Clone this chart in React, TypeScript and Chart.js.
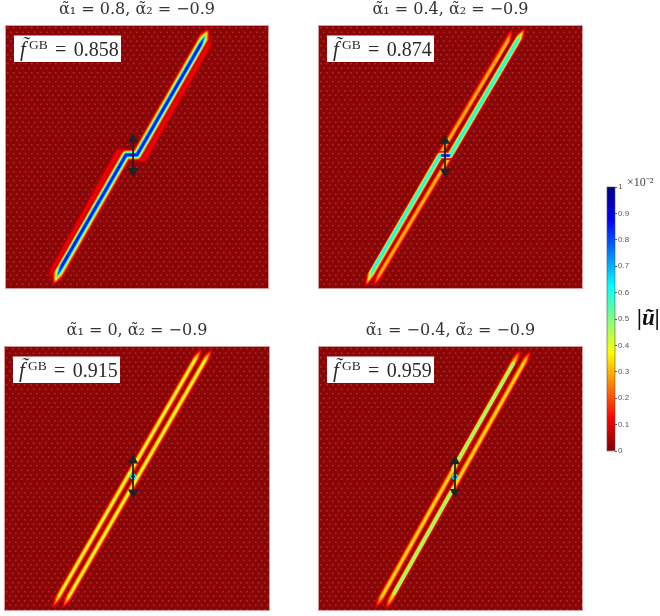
import React, { useEffect, useRef } from "react";
import { Chart, registerables } from "chart.js";

Chart.register(...registerables);

type Pt = [number, number];

// Titles and GB fractions
const panelTitles = [
  "α̃₁ = 0.8, α̃₂ = −0.9",
  "α̃₁ = 0.4, α̃₂ = −0.9",
  "α̃₁ = 0, α̃₂ = −0.9",
  "α̃₁ = −0.4, α̃₂ = −0.9",
];
const fractionValues = ["0.858", "0.874", "0.915", "0.959"];

// Panel 1: ridge of the displacement field and its side lobes
const p1Outer: Pt[] = [[77.0, 98.3], [50.0, 50.8], [45.8, 50.8], [18.4, 2.0]];
const p1Core: Pt[] = [[74.2, 92.8], [50.0, 50.8], [45.8, 50.8], [21.2, 8.3]];
const p1LobeUpper: Pt[] = [[79.2, 95.8], [52.6, 49.2], [49.2, 49.2]];
const p1LobeUpperCore: Pt[] = [[77.0, 92.0], [52.6, 49.2], [49.2, 49.2]];
const p1LobeLower: Pt[] = [[15.9, 3.4], [42.8, 51.9], [45.1, 52.3]];
const p1LobeLowerCore: Pt[] = [[18.0, 7.0], [42.8, 51.9], [45.1, 52.3]];

// Panel 2
const p2Outer: Pt[] = [[78.1, 98.9], [49.8, 50.6], [46.0, 50.6], [17.7, 0.8]];
const p2Core: Pt[] = [[75.0, 93.6], [49.8, 50.6], [46.0, 50.6], [20.8, 7.6]];
const p2StripeUpper: Pt[] = [[73.5, 99.0], [46.4, 51.7]];
const p2StripeUpperCore: Pt[] = [[71.5, 93.5], [46.4, 51.7]];
const p2StripeLower: Pt[] = [[49.8, 50.2], [20.5, 0.4]];
const p2StripeLowerCore: Pt[] = [[49.8, 50.2], [23.5, 6.0]];
const p2Kink: Pt[] = [[46.8, 50.6], [49.4, 50.6]];

// Panel 3
const p3LeftOuter: Pt[] = [[74.4, 99.2], [18.0, 0.8]];
const p3LeftCore: Pt[] = [[71.6, 94.6], [21.2, 6.8]];
const p3RightOuter: Pt[] = [[78.2, 98.9], [21.8, 0.8]];
const p3RightCore: Pt[] = [[75.4, 94.4], [24.9, 6.4]];
const p3Centre: Pt[] = [[48.5, 50.8]];

// Panel 4
const p4LeftOuter: Pt[] = [[76.6, 98.9], [21.5, 0.8]];
const p4LeftCore: Pt[] = [[74.0, 94.2], [24.3, 5.8]];
const p4RightOuter: Pt[] = [[80.4, 98.5], [25.3, 0.4]];
const p4RightCore: Pt[] = [[77.8, 93.8], [28.0, 5.4]];
const p4GreenLeft: Pt[] = [[73.8, 93.6], [50.9, 53.6]];
const p4GreenRight: Pt[] = [[50.9, 46.0], [28.6, 6.4]];
const p4Centre: Pt[] = [[51.7, 50.6]];

// Prescribed displacement arrows
const arrow1: Pt[] = [[48.5, 56.8], [48.5, 44.7]];
const arrow2: Pt[] = [[47.9, 56.2], [47.9, 44.5]];
const arrow3: Pt[] = [[48.5, 56.8], [48.5, 44.7]];
const arrow4: Pt[] = [[51.7, 56.6], [51.7, 44.9]];

// Colour bar
const colorbarLabels = [""];
const colorbarRange: [number, number][] = [[0, 1]];
const colorbarTicks = [0, 0.1, 0.2, 0.3, 0.4, 0.5, 0.6, 0.7, 0.8, 0.9, 1];

// Styling: colour value / stroke width
const blueProfile = [[0.05, 12], [0.08, 10.8], [0.12, 10], [0.18, 9.2], [0.24, 8.3], [0.3, 7.5], [0.35, 6.8], [0.4, 6.1], [0.45, 5.6], [0.5, 5.1], [0.55, 4.6], [0.6, 4.2], [0.66, 3.7], [0.72, 3.3], [0.78, 2.8], [0.85, 2.1]];
const cyanProfile = [[0.05, 8.4], [0.08, 7.4], [0.12, 6.8], [0.18, 6.2], [0.24, 5.6], [0.3, 5], [0.35, 4.5], [0.4, 4], [0.45, 3.6], [0.5, 3.2], [0.55, 2.8], [0.6, 2.4]];
const orangeProfile = [[0.05, 7], [0.08, 6], [0.12, 5.2], [0.17, 4.3], [0.22, 3.4], [0.26, 2.6], [0.3, 1.8]];
const yellowProfile = [[0.05, 7.6], [0.08, 6.8], [0.12, 6], [0.17, 5], [0.22, 4.2], [0.27, 3.4], [0.32, 2.7], [0.36, 2.1], [0.41, 1.4]];
const amberProfile = [[0.05, 7.4], [0.08, 6.6], [0.12, 5.8], [0.17, 4.9], [0.22, 4], [0.27, 3.2], [0.31, 2.4], [0.34, 1.6]];
const greenProfile = [[0.36, 3.6], [0.4, 3], [0.44, 2.6], [0.48, 2.2]];
const lobeProfile = [[0.04, 7.4], [0.07, 5.6], [0.11, 3.6]];
const taperSteps = [[1, 0], [0.65, 0.2], [0.35, 0.4]];

const jet = (v: number) => {
  const t = 1 - v;
  const c = (x: number) => Math.round(255 * Math.max(0, Math.min(1, 1.5 - Math.abs(x))));
  return `rgb(${c(4 * t - 3)},${c(4 * t - 2)},${c(4 * t - 1)})`;
};

const toXY = (pts: Pt[]) => pts.map(([x, y]) => ({ x, y }));

const line = (pts: Pt[], v: number, w: number) => ({
  type: "line",
  data: toXY(pts),
  borderColor: jet(v),
  borderWidth: w,
  borderCapStyle: "round",
  borderJoinStyle: "round",
  pointRadius: 0,
  tension: 0,
  fill: false,
});

const between = (a: Pt[], b: Pt[], k: number): Pt[] =>
  a.map(([x, y], i) => [x + (b[i][0] - x) * k, y + (b[i][1] - y) * k]);

// Each colour level of a ridge narrows towards the tips of the ridge.
const ridge = (outer: Pt[], core: Pt[], profile: number[][]) => {
  const peak = profile[profile.length - 1][0];
  const out: any[] = [];
  for (const [v, w] of profile) {
    const s = 0.4 + 0.6 * (v / peak);
    for (const [f, back] of taperSteps) {
      out.push(line(between(outer, core, Math.max(0, s - back)), v, w * f));
    }
  }
  return out;
};

const dots = (pts: Pt[], v: number, r: number) => ({
  type: "scatter",
  data: toXY(pts),
  backgroundColor: jet(v),
  borderWidth: 0,
  pointRadius: r,
});

const arrow = (pts: Pt[]) => ({
  type: "line",
  data: toXY(pts),
  borderColor: "#222222",
  borderWidth: 1.8,
  pointStyle: "triangle",
  pointRadius: 6,
  pointBorderWidth: 0,
  pointBackgroundColor: "#222222",
  pointRotation: [0, 180],
  tension: 0,
});

const panelLayers = [
  [
    ...ridge(p1LobeUpper, p1LobeUpperCore, lobeProfile),
    ...ridge(p1LobeLower, p1LobeLowerCore, lobeProfile),
    ...ridge(p1Outer, p1Core, blueProfile),
    arrow(arrow1),
  ],
  [
    ...ridge(p2StripeUpper, p2StripeUpperCore, orangeProfile),
    ...ridge(p2StripeLower, p2StripeLowerCore, orangeProfile),
    ...ridge(p2Outer, p2Core, cyanProfile),
    line(p2Kink, 0.86, 2.6),
    arrow(arrow2),
  ],
  [
    ...ridge(p3LeftOuter, p3LeftCore, yellowProfile),
    ...ridge(p3RightOuter, p3RightCore, yellowProfile),
    dots(p3Centre, 0.62, 3),
    dots(p3Centre, 0.85, 1.8),
    arrow(arrow3),
  ],
  [
    ...ridge(p4LeftOuter, p4LeftCore, amberProfile),
    ...ridge(p4RightOuter, p4RightCore, amberProfile),
    ...ridge(p4GreenLeft, p4GreenLeft, greenProfile),
    ...ridge(p4GreenRight, p4GreenRight, greenProfile),
    dots(p4Centre, 0.62, 3),
    dots(p4Centre, 0.85, 1.8),
    arrow(arrow4),
  ],
];

const boxes = [
  { left: 5, top: 26, w: 264, h: 264 },
  { left: 318, top: 26, w: 265, h: 264 },
  { left: 4, top: 347, w: 266, h: 265 },
  { left: 318, top: 347, w: 265, h: 265 },
];

const SERIF = '"Liberation Serif", serif';
const TITLE_FONT = '"DejaVu Serif", serif';

const latticePattern = (ctx: CanvasRenderingContext2D) => {
  const tile = document.createElement("canvas");
  tile.width = 6;
  tile.height = 9;
  const t = tile.getContext("2d")!;
  t.fillStyle = "rgba(215,90,80,0.52)";
  t.fillRect(1, 1, 1.5, 1.5);
  t.fillRect(4, 5.5, 1.5, 1.5);
  return ctx.createPattern(tile, "repeat")!;
};

const panelPlugin = (index: number) => ({
  id: "panelDecor",
  beforeDatasetsDraw(chart: any) {
    const { ctx, chartArea: a } = chart;
    ctx.save();
    ctx.fillStyle = "#8a0606";
    ctx.fillRect(a.left, a.top, a.width, a.height);
    ctx.translate(a.left, a.top);
    ctx.fillStyle = latticePattern(ctx);
    ctx.fillRect(0, 0, a.width, a.height);
    ctx.restore();
  },
  afterDatasetsDraw(chart: any) {
    const { ctx, chartArea: a } = chart;
    ctx.save();
    ctx.strokeStyle = "rgba(205,130,130,0.8)";
    ctx.lineWidth = 1;
    ctx.strokeRect(a.left - 0.5, a.top - 0.5, a.width + 1, a.height + 1);
    const bx = a.left + 8;
    const by = a.top + 9.5;
    ctx.fillStyle = "#ffffff";
    ctx.fillRect(bx, by, 107, 26.5);
    ctx.fillStyle = "#2a2a2a";
    ctx.textBaseline = "alphabetic";
    ctx.textAlign = "left";
    ctx.font = `italic 21px ${SERIF}`;
    ctx.fillText("f̃", bx + 6, by + 20);
    ctx.font = `13.5px ${SERIF}`;
    ctx.fillText("GB", bx + 15, by + 13);
    ctx.font = `20px ${SERIF}`;
    (ctx as any).wordSpacing = "2.5px";
    ctx.fillText(`= ${fractionValues[index]}`, bx + 41, by + 20);
    (ctx as any).wordSpacing = "0px";
    ctx.restore();
  },
});

const colorbarPlugin = {
  id: "colorbarDecor",
  afterDatasetsDraw(chart: any) {
    const { ctx, chartArea: a } = chart;
    ctx.save();
    ctx.strokeStyle = "#555555";
    ctx.lineWidth = 0.6;
    ctx.strokeRect(a.left, a.top, a.width, a.height);
    ctx.fillStyle = "#444444";
    ctx.font = `12px ${SERIF}`;
    ctx.textAlign = "left";
    ctx.textBaseline = "middle";
    ctx.fillText("×10⁻²", 37, 8);
    ctx.fillStyle = "#111111";
    ctx.font = `italic bold 23px ${SERIF}`;
    ctx.fillText("|ũ|", 47, 144);
    ctx.restore();
  },
};

function Panel({ index }: { index: number }) {
  const ref = useRef<HTMLCanvasElement>(null);
  const b = boxes[index];
  useEffect(() => {
    const datasets = panelLayers[index].map((d: any, i: number, all: any[]) => ({
      ...d,
      order: all.length - i,
    }));
    const chart = new Chart(ref.current!, {
      type: "line",
      data: { datasets } as any,
      options: {
        animation: false,
        responsive: false,
        events: [],
        layout: { padding: { left: 5, right: 5, top: 0, bottom: 4 } },
        scales: {
          x: { type: "linear", min: 0, max: 100, display: false },
          y: { type: "linear", min: 0, max: 100, display: false },
        },
        plugins: {
          legend: { display: false },
          tooltip: { enabled: false },
          title: {
            display: true,
            text: panelTitles[index],
            color: "#333333",
            font: { family: TITLE_FONT, size: 16, weight: "normal", lineHeight: 1 },
            padding: { top: 2, bottom: 8 },
          },
        },
      } as any,
      plugins: [panelPlugin(index)],
    });
    return () => chart.destroy();
  }, [index]);
  return (
    <canvas
      ref={ref}
      width={b.w + 10}
      height={b.h + 30}
      style={{
        position: "absolute",
        left: b.left - 5,
        top: b.top - 26,
        width: b.w + 10,
        height: b.h + 30,
        filter: "blur(0.55px)",
      }}
    />
  );
}

function ColorBar() {
  const ref = useRef<HTMLCanvasElement>(null);
  useEffect(() => {
    const chart = new Chart(ref.current!, {
      type: "bar",
      data: {
        labels: colorbarLabels,
        datasets: [
          {
            data: colorbarRange,
            barPercentage: 1,
            categoryPercentage: 1,
            backgroundColor: (c: any) => {
              const a = c.chart.chartArea;
              if (!a) return "#000000";
              const g = c.chart.ctx.createLinearGradient(0, a.bottom, 0, a.top);
              for (let i = 0; i <= 32; i++) g.addColorStop(i / 32, jet(i / 32));
              return g;
            },
          },
        ],
      } as any,
      options: {
        animation: false,
        responsive: false,
        events: [],
        layout: { padding: { left: 17, right: 20, top: 12, bottom: 14 } },
        scales: {
          x: { display: false },
          y: {
            position: "right",
            min: 0,
            max: 1,
            afterBuildTicks: (axis: any) => {
              axis.ticks = colorbarTicks.map((value) => ({ value }));
            },
            afterFit: (axis: any) => {
              axis.width = 25;
            },
            border: { display: false },
            grid: { drawOnChartArea: false, tickLength: 2, tickColor: "#555555" },
            ticks: {
              color: "#555555",
              padding: 1,
              autoSkip: false,
              callback: (value: number) => String(value),
              font: { family: '"Liberation Sans", sans-serif', size: 8 },
            },
          },
        },
        plugins: { legend: { display: false }, tooltip: { enabled: false } },
      } as any,
      plugins: [colorbarPlugin],
    });
    return () => chart.destroy();
  }, []);
  return (
    <canvas
      ref={ref}
      width={70}
      height={290}
      style={{ position: "absolute", left: 590, top: 175, width: 70, height: 290, filter: "blur(0.35px)" }}
    />
  );
}

export default function App() {
  return (
    <div style={{ position: "fixed", left: 0, top: 0, width: 660, height: 616, background: "#ffffff", overflow: "hidden" }}>
      {boxes.map((_, i) => (
        <Panel key={i} index={i} />
      ))}
      <ColorBar />
    </div>
  );
}
